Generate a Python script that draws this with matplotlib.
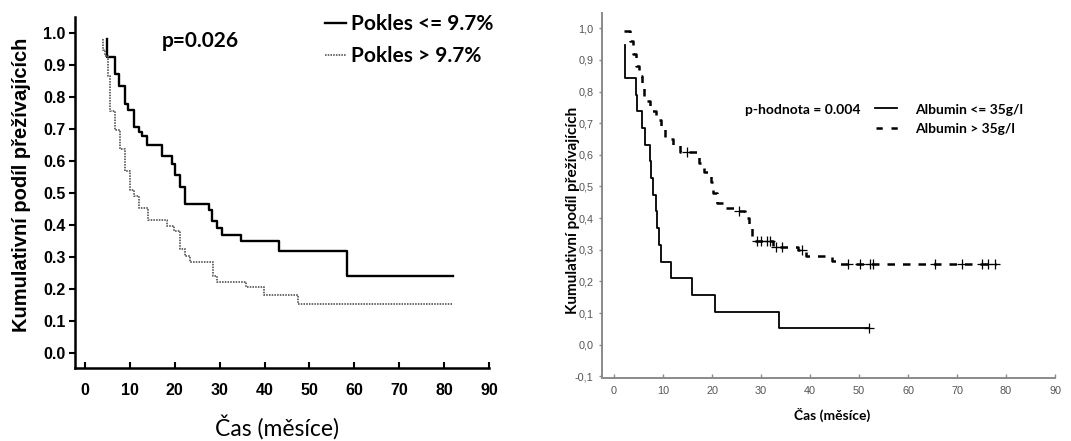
import matplotlib
matplotlib.use("Agg")
import matplotlib.pyplot as plt
import numpy as np
from matplotlib.ticker import FuncFormatter

# ---------------- data ----------------
# Left panel: Kaplan-Meier, weight loss groups
low_start = 0.981
low_times = [4.8, 6.7, 7.6, 8.9, 9.65, 10.8, 11.9, 12.6, 13.9, 17.1, 19.3, 20.0,
             21.2, 22.2, 27.5, 28.2, 29.3, 30.4, 34.7, 43.1, 58.4]
low_surv = [0.925, 0.873, 0.833, 0.778, 0.760, 0.706, 0.690, 0.677, 0.649, 0.615,
            0.592, 0.557, 0.518, 0.467, 0.446, 0.411, 0.391, 0.370, 0.349, 0.320, 0.240]
low_end = 82.0

high_start = 0.981
high_times = [3.9, 4.4, 5.0, 5.5, 6.7, 7.8, 8.9, 10.0, 10.9, 12.1, 14.1, 18.2,
              19.7, 21.2, 22.3, 23.4, 28.4, 29.3, 35.9, 39.9, 47.4]
high_surv = [0.948, 0.927, 0.867, 0.755, 0.698, 0.639, 0.568, 0.510, 0.492, 0.453,
             0.417, 0.396, 0.380, 0.325, 0.304, 0.284, 0.242, 0.221, 0.206, 0.180, 0.153]
high_end = 82.0

left_labels = ["Pokles <= 9.7%", "Pokles > 9.7%"]
left_p = "p=0.026"

# Right panel: Kaplan-Meier, albumin groups
alb_low_start = 0.947
alb_low_times = [2.2, 4.4, 4.7, 5.7, 6.3, 7.3, 7.5, 8.0, 8.5, 8.8, 9.1, 9.6,
                 11.6, 15.9, 20.6, 33.7]
alb_low_surv = [0.842, 0.789, 0.737, 0.684, 0.632, 0.579, 0.526, 0.474, 0.421,
                0.368, 0.316, 0.263, 0.211, 0.158, 0.105, 0.053]
alb_low_end = 52.0
alb_low_censor = [52.0]

alb_high_start = 0.99
alb_high_begin = 2.0
alb_high_times = [3.3, 3.8, 4.4, 5.2, 5.7, 6.2, 7.3, 8.6, 9.5, 10.4, 12.0, 13.4,
                  17.4, 18.3, 19.7, 20.3, 21.1, 22.5, 24.5, 26.8, 27.6, 28.2,
                  32.4, 37.5, 39.2, 44.5, 45.8]
alb_high_surv = [0.96, 0.92, 0.88, 0.85, 0.81, 0.77, 0.74, 0.71, 0.68, 0.65, 0.63,
                 0.61, 0.575, 0.545, 0.515, 0.48, 0.447, 0.433, 0.421, 0.40, 0.368,
                 0.329, 0.31, 0.30, 0.28, 0.265, 0.255]
alb_high_end = 78.0
alb_high_censor = [14.8, 25.6, 29.1, 30.1, 31.2, 31.8, 33.1, 34.2, 38.3, 47.8,
                   50.2, 52.2, 52.9, 65.5, 71.0, 75.0, 76.4, 77.8]

right_labels = ["Albumin <= 35g/l", "Albumin > 35g/l"]
right_p = "p-hodnota = 0.004"

x_ticks = [0, 10, 20, 30, 40, 50, 60, 70, 80, 90]
xlabel = "Čas (měsíce)"
ylabel = "Kumulativní podíl přežívajících"

# ---------------- helpers ----------------
W, H = 1071, 441
fig = plt.figure(figsize=(W / 100, H / 100), dpi=100)


def fx(p):
    return p / W


def fy(p):
    return 1 - p / H


def step_xy(begin, start, times, surv, end):
    xs = [begin] + list(times) + [end]
    ys = [start] + list(surv) + [surv[-1]]
    return xs, ys


def surv_at(t, start, times, surv):
    idx = np.searchsorted(np.array(times), t, side="right")
    if idx == 0:
        return start
    return surv[idx - 1]


ARIAL = "Liberation Sans"
CALIBRI = "Lato"

# ---------------- left panel ----------------
axL = fig.add_axes([fx(75), fy(368), fx(489 - 75), (368 - 17) / H])
axL.set_xlim(-2.25, 90)
axL.set_ylim(-0.047, 1.05)
for s in ["top", "right"]:
    axL.spines[s].set_visible(False)
for s in ["left", "bottom"]:
    axL.spines[s].set_linewidth(1.8)
    axL.spines[s].set_color("black")

x, y = step_xy(low_times[0], low_start, low_times, low_surv, low_end)
axL.step(x, y, where="post", color="black", lw=1.7)
x, y = step_xy(high_times[0], high_start, high_times, high_surv, high_end)
axL.step(x, y, where="post", color="#6a6a6a", lw=1.4, linestyle=(0, (0.8, 0.6)))

axL.set_xticks(x_ticks)
axL.set_yticks(np.round(np.arange(0, 1.01, 0.1), 1))
axL.yaxis.set_major_formatter(FuncFormatter(lambda v, p: f"{v:.1f}"))
axL.tick_params(axis="x", direction="in", length=4, width=1.5, pad=11)
axL.tick_params(axis="y", direction="out", length=4, width=1.5, pad=3)
for lab in axL.get_xticklabels() + axL.get_yticklabels():
    lab.set_fontfamily(ARIAL)
    lab.set_fontweight("bold")
    lab.set_fontsize(11.5)

fig.text(fx(22), fy(185), ylabel, rotation=90, ha="center", va="center",
         fontfamily=ARIAL, fontweight="bold", fontsize=14.5)
fig.text(fx(277), fy(427), xlabel, ha="center", va="center",
         fontfamily=CALIBRI, fontsize=16.5)
fig.text(fx(200), fy(41), left_p, ha="center", va="center",
         fontfamily=CALIBRI, fontweight="bold", fontsize=15)

# legend left
fig.lines.append(plt.Line2D([fx(325), fx(346)], [fy(23), fy(23)], color="black",
                            lw=1.7, transform=fig.transFigure))
fig.lines.append(plt.Line2D([fx(325), fx(346)], [fy(55), fy(55)], color="#6a6a6a",
                            lw=1.4, linestyle=(0, (0.8, 0.6)), transform=fig.transFigure))
fig.text(fx(351), fy(24), left_labels[0], ha="left", va="center",
         fontfamily=CALIBRI, fontweight="bold", fontsize=15)
fig.text(fx(351), fy(56), left_labels[1], ha="left", va="center",
         fontfamily=CALIBRI, fontweight="bold", fontsize=15)

# ---------------- right panel ----------------
GRAY = "#8a8a8a"
axR = fig.add_axes([fx(602), fy(378), fx(1055 - 602), (378 - 13) / H])
axR.set_xlim(-2.45, 90)
axR.set_ylim(-0.105, 1.048)
for s in ["top", "right"]:
    axR.spines[s].set_visible(False)
for s in ["left", "bottom"]:
    axR.spines[s].set_linewidth(1.4)
    axR.spines[s].set_color(GRAY)

x, y = step_xy(alb_low_times[0], alb_low_start, alb_low_times, alb_low_surv, alb_low_end)
axR.step(x, y, where="post", color="black", lw=1.3)
cy = [surv_at(t, alb_low_start, alb_low_times, alb_low_surv) for t in alb_low_censor]
axR.plot(alb_low_censor, cy, linestyle="none", marker="+", color="black",
         markersize=6.5, markeredgewidth=0.9)

x, y = step_xy(alb_high_begin, alb_high_start, alb_high_times, alb_high_surv, alb_high_end)
axR.step(x, y, where="post", color="black", lw=1.8, linestyle=(0, (3.0, 3.2)))
cy = [surv_at(t, alb_high_start, alb_high_times, alb_high_surv) for t in alb_high_censor]
axR.plot(alb_high_censor, cy, linestyle="none", marker="+", color="black",
         markersize=6.5, markeredgewidth=0.9)

axR.set_xticks(x_ticks)
axR.set_yticks(np.round(np.arange(-0.1, 1.01, 0.1), 1))
axR.yaxis.set_major_formatter(FuncFormatter(lambda v, p: f"{v:.1f}".replace(".", ",")))
axR.tick_params(axis="x", direction="in", length=3, width=1.0, color=GRAY, pad=6,
                labelcolor="#555555", labelsize=7.8)
axR.tick_params(axis="y", direction="out", length=2, width=1.0, color=GRAY, pad=4,
                labelcolor="#555555", labelsize=7.8)
for lab in axR.get_xticklabels() + axR.get_yticklabels():
    lab.set_fontfamily(ARIAL)

fig.text(fx(573), fy(210), ylabel, rotation=90, ha="center", va="center",
         fontfamily=CALIBRI, fontweight="bold", fontsize=11)
fig.text(fx(832), fy(415), xlabel, ha="center", va="center",
         fontfamily=CALIBRI, fontweight="bold", fontsize=10)
fig.text(fx(745), fy(110), right_p, ha="left", va="center",
         fontfamily=CALIBRI, fontweight="bold", fontsize=10)

fig.lines.append(plt.Line2D([fx(875), fx(897)], [fy(108), fy(108)], color="black",
                            lw=1.3, transform=fig.transFigure))
fig.lines.append(plt.Line2D([fx(876), fx(898)], [fy(128), fy(128)], color="black",
                            lw=1.8, linestyle=(0, (2.5, 3.5)), transform=fig.transFigure))
fig.text(fx(915), fy(110), right_labels[0], ha="left", va="center",
         fontfamily=CALIBRI, fontweight="bold", fontsize=10)
fig.text(fx(915), fy(129), right_labels[1], ha="left", va="center",
         fontfamily=CALIBRI, fontweight="bold", fontsize=10)

fig.savefig("out.png", dpi=100, facecolor="white")
